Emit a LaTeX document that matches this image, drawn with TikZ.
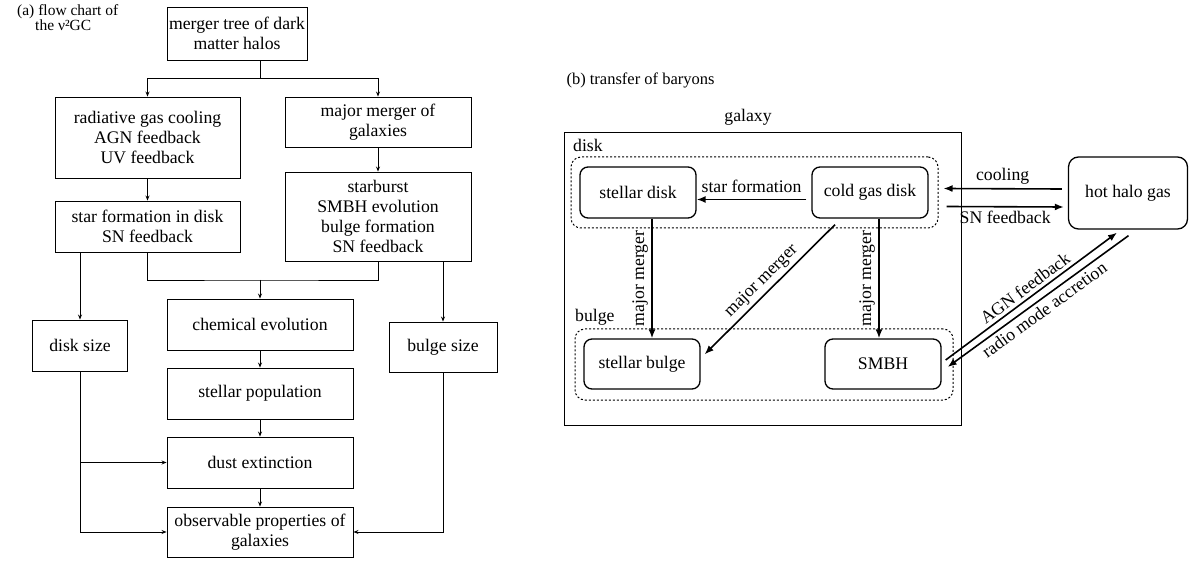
\documentclass[tikz,border=0pt]{standalone}
\usepackage{fontspec}
\setmainfont{Liberation Serif}
\usetikzlibrary{arrows.meta}

\begin{document}
\begin{tikzpicture}[x=1pt, y=-1pt,
	font=\fontsize{17.7}{20}\selectfont,
	box/.style={draw, line width=0.9pt, align=center, inner sep=2pt, minimum width=186pt, minimum height=51pt},
	link/.style={line width=0.8pt},
	flow/.style={line width=0.8pt, -{Stealth[length=5pt, width=4pt]}},
	state/.style={draw, line width=1.3pt, rounded corners=8pt, minimum width=116pt, minimum height=51pt},
	group/.style={draw, dash pattern=on 2pt off 2pt, line width=1pt, rounded corners=10pt},
	baryon/.style={line width=1.6pt, -{Latex[length=9pt, width=7pt]}}]
	\useasboundingbox (0,0) rectangle (1189,561);

	% (a) flow chart
	\node[anchor=north west, align=left, inner sep=0pt, font=\fontsize{15.5}{15}\selectfont] (titlea) at (17,4) {(a) flow chart of\\\hspace*{18pt}the ν²GC};

	\node[box, minimum width=140pt, minimum height=53pt] (tree) at (237,33.5) {merger tree of dark\\matter halos};
	\node[box, minimum width=185pt, minimum height=81pt] (cool) at (147.5,137.5) {radiative gas cooling\\AGN feedback\\UV feedback};
	\node[box, minimum height=50pt] (merger) at (378,122) {major merger of\\galaxies};
	\node[box, minimum width=185pt] (sfdisk) at (147.5,226.5) {star formation in disk\\SN feedback};
	\node[box, minimum height=89pt] (burst) at (378,216.5) {starburst\\SMBH evolution\\bulge formation\\SN feedback};
	\node[box, minimum width=95pt] (dsize) at (80,345.5) {disk size};
	\node[box, minimum width=108pt, minimum height=50pt] (bsize) at (443,347) {bulge size};
	\node[box] (chem) at (260,324.5) {chemical evolution};
	\node[box] (pop) at (260,393.5) {stellar population};
	\node[box] (dust) at (260,462.5) {dust extinction};
	\node[box, minimum height=50pt] (obs) at (260,532) {observable properties of\\galaxies};

	\coordinate (split) at (260,78);
	\coordinate (join) at (260,280);

	\draw[link] (tree.south -| split) -- (split);
	\draw[flow] (split) -| (cool);
	\draw[flow] (split) -| (merger);
	\draw[flow] (cool) -- (sfdisk);
	\draw[flow] (merger) -- (burst);
	\draw[flow] (sfdisk.south -| dsize) -- (dsize);
	\draw[link] (sfdisk.south) |- (join) -| (burst.south);
	\draw[flow] (join) -- (chem);
	\draw[flow] (burst.south -| bsize) -- (bsize);
	\draw[flow] (chem) -- (pop);
	\draw[flow] (pop) -- (dust);
	\draw[flow] (dust) -- (obs);
	\draw[flow] (dsize) |- (dust);
	\draw[flow] (dsize) |- (obs);
	\draw[flow] (bsize) |- (obs);

	% (b) transfer of baryons
	\node[anchor=west, font=\fontsize{16.5}{18}\selectfont] (titleb) at (563,80) {(b) transfer of baryons};
	\node (galaxylabel) at (748,117) {galaxy};
	\node[draw, line width=1pt, minimum width=397pt, minimum height=292pt] (galaxy) at (762.5,279) {};

	\node[group, minimum width=367pt, minimum height=71pt] (diskgrp) at (754.5,192.5) {};
	\node[anchor=base west, inner sep=0pt] (disklabel) at (573,152) {disk};
	\node[group, minimum width=378pt, minimum height=71pt] (bulgegrp) at (764,364.5) {};
	\node[anchor=base west, inner sep=0pt] (bulgelabel) at (575,322) {bulge};

	\node[state] (sdisk) at (638,192.5) {stellar disk};
	\node[state] (cold) at (870,192.5) {cold gas disk};
	\node[state, minimum height=50pt] (sbulge) at (642,364) {stellar bulge};
	\node[state, minimum height=50pt] (smbh) at (883,364) {SMBH};
	\node[state, minimum width=119pt, minimum height=72pt, rounded corners=10pt] (hot) at (1128,193) {hot halo gas};

	\draw[baryon] ([xshift=-5pt,yshift=-7pt]cold.west) -- ([yshift=-7pt]sdisk.east) node[midway, above=3pt] {star formation};
	\draw[baryon] ([xshift=14pt]sdisk.south) -- ([xshift=14pt]sdisk.south |- sbulge.north) node[midway, rotate=90, anchor=south] {major merger};
	\draw[baryon] ([xshift=9pt]cold.south) -- ([xshift=9pt]cold.south |- smbh.north) node[midway, rotate=90, anchor=south] {major merger};
	\draw[baryon] ([xshift=-35pt,yshift=-6pt]cold.south) -- ([xshift=4pt,yshift=-16pt]sbulge.north east) node[midway, sloped, above] {major merger};
	\draw[baryon] ([xshift=-6pt,yshift=4pt]hot.west) -- ([xshift=5pt,yshift=4pt]diskgrp.east) node[midway, above] {cooling};
	\draw[baryon] ([xshift=8pt,yshift=-14pt]diskgrp.east) -- ([xshift=-4pt,yshift=-14pt]hot.west) node[midway, below] {SN feedback};
	\draw[baryon] ([xshift=4pt,yshift=4pt]smbh.east) -- ([xshift=-11pt,yshift=-3pt]hot.south) node[midway, sloped, above] {AGN feedback};
	\draw[baryon] ([xshift=0.5pt,yshift=-6pt]hot.south) -- ([xshift=6pt,yshift=-3pt]smbh.east) node[midway, sloped, below] {radio mode accretion};
\end{tikzpicture}
\end{document}
